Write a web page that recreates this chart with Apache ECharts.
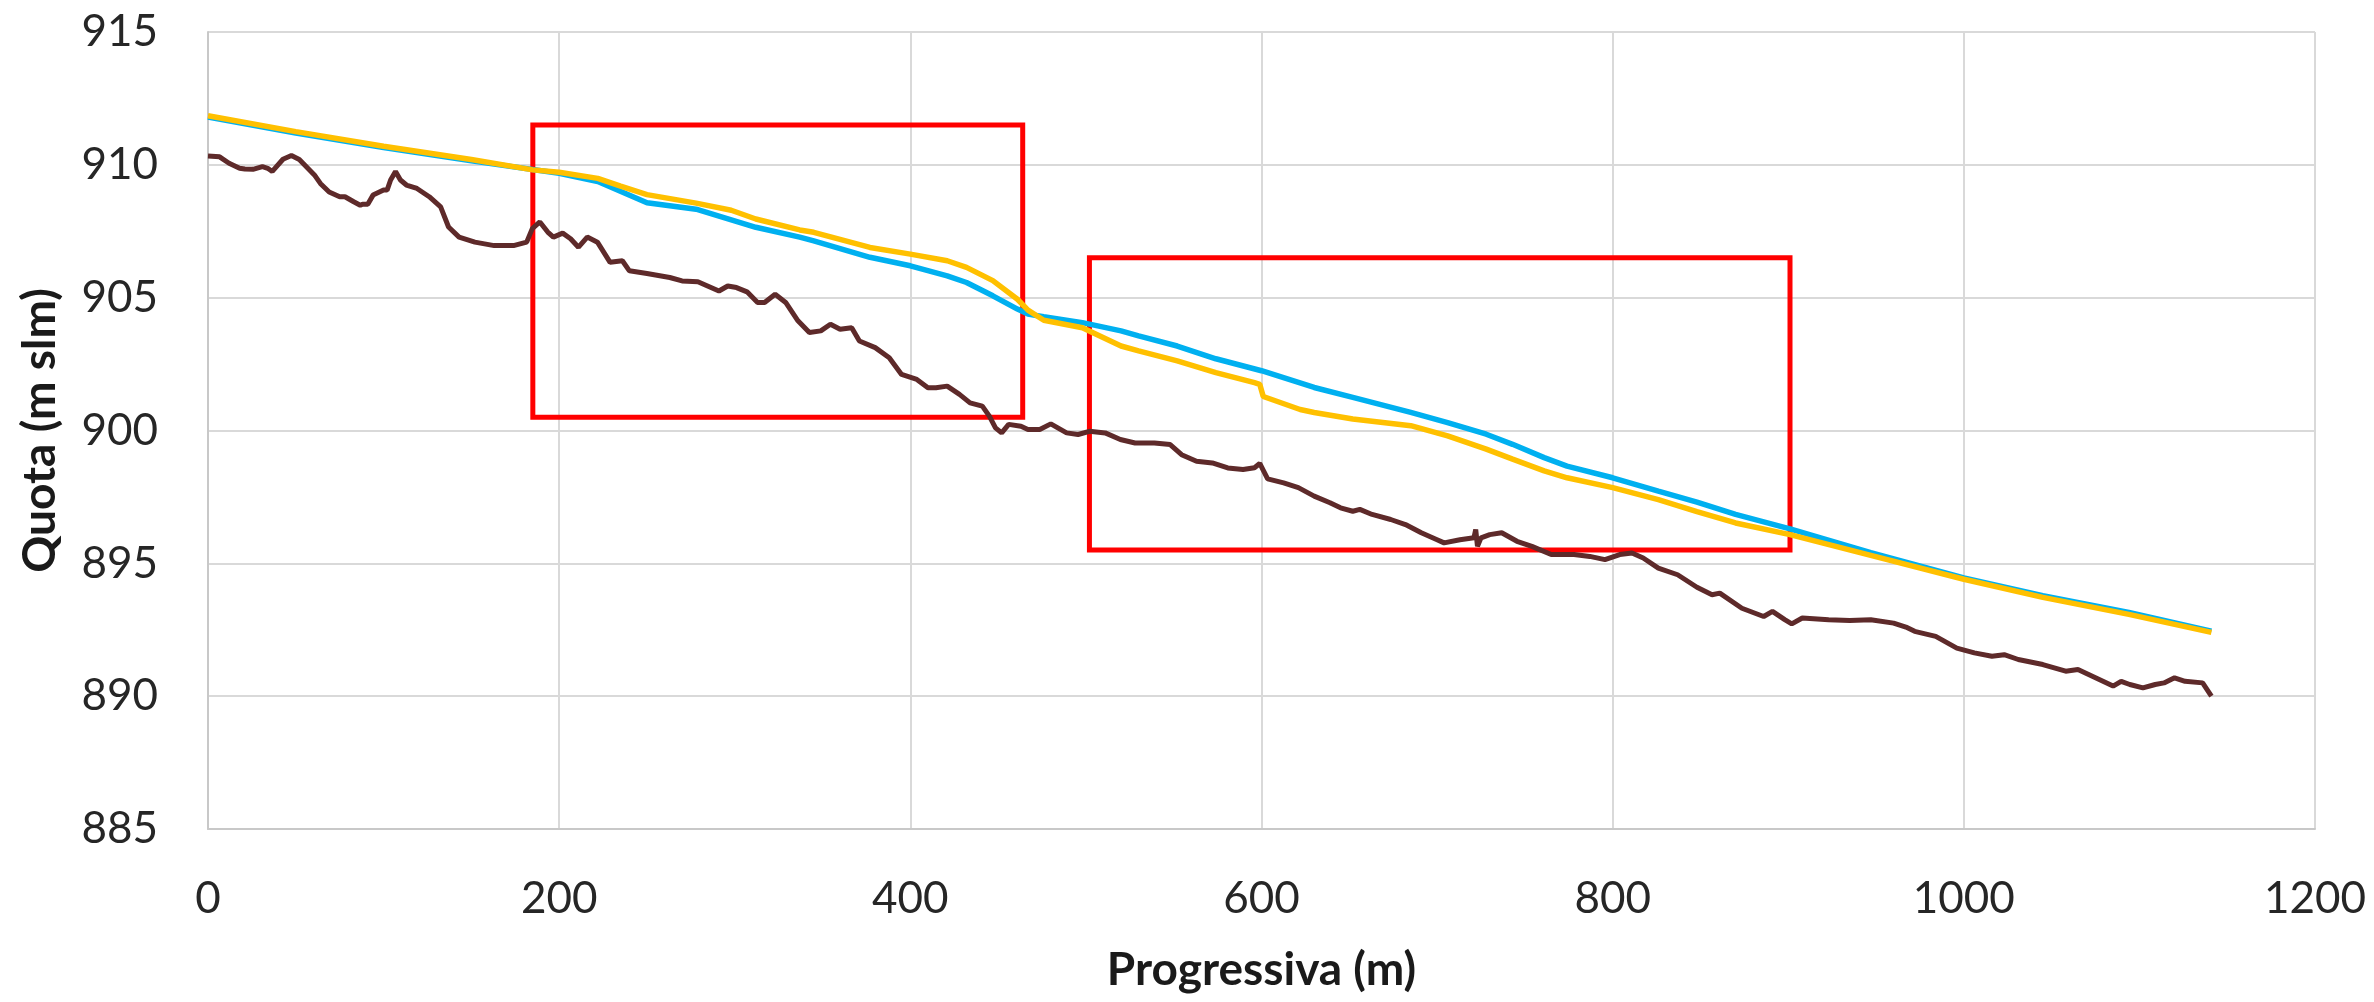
<!DOCTYPE html>
<html>
<head>
<meta charset="utf-8">
<title>Profilo</title>
<script src="https://cdn.jsdelivr.net/npm/echarts/dist/echarts.min.js"></script>
<style>
    html, body { margin: 0; padding: 0; background: #fff; }
    #main { width: 2374px; height: 1002px; }
</style>
</head>
<body>
<div id="main"></div>
<script>
// progressiva (m), quota (m slm) - fondo alveo
var fondo = [
    [0, 910.33], [6.6, 910.3], [12, 910.06], [18, 909.87], [21, 909.84], [25.6, 909.83], [31, 909.93],
    [34, 909.87], [36.6, 909.75], [42.7, 910.21], [47.5, 910.35], [52, 910.2], [60.6, 909.62],
    [64, 909.3], [69, 908.98], [75, 908.8], [78, 908.8], [83, 908.61], [86.7, 908.48], [88, 908.52],
    [91, 908.52], [94, 908.86], [100, 909.05], [102, 909.05], [104, 909.43], [106.8, 909.75],
    [109.6, 909.43], [113, 909.24], [119, 909.11], [126, 908.8], [132.5, 908.42], [137, 907.66],
    [143, 907.28], [152, 907.09], [163, 906.96], [174, 906.96], [181.5, 907.09], [184.7, 907.6],
    [189, 907.85], [193.5, 907.47], [196.7, 907.28], [202, 907.43], [206.5, 907.22], [211, 906.9],
    [216, 907.28], [221.8, 907.09], [229, 906.33], [236, 906.39], [240, 906.01], [250, 905.91],
    [263, 905.76], [270, 905.63], [279, 905.6], [291, 905.25], [296, 905.44], [301, 905.38],
    [307, 905.22], [313, 904.82], [317, 904.82], [323, 905.13], [329, 904.82], [336, 904.13],
    [342.5, 903.69], [349, 903.75], [354.5, 904.0], [360, 903.81], [366.6, 903.87], [371, 903.37],
    [380, 903.12], [388, 902.74], [395, 902.11], [403.7, 901.92], [410, 901.61], [414.6, 901.61],
    [421, 901.67], [428, 901.36], [434, 901.04], [441, 900.92], [445, 900.54], [448.5, 900.1],
    [452, 899.91], [456, 900.23], [463, 900.16], [467, 900.04], [473.7, 900.04], [480, 900.25],
    [489, 899.91], [495.5, 899.85], [502, 899.97], [511, 899.91], [519.6, 899.66], [528, 899.53],
    [539, 899.53], [548, 899.47], [554.5, 899.09], [563, 898.84], [572, 898.78], [580.8, 898.59],
    [589.5, 898.53], [596, 898.6], [599, 898.76], [603.5, 898.18], [612.6, 898.03], [621, 897.85],
    [630, 897.53], [639, 897.28], [645, 897.09], [652, 896.96], [656, 897.03], [663, 896.84],
    [673.6, 896.65], [682, 896.46], [691, 896.15], [700, 895.89], [704, 895.77], [713, 895.89],
    [721, 895.96], [722, 896.27], [723, 895.64], [725, 895.96], [730, 896.08], [736.8, 896.15],
    [745.5, 895.83], [754, 895.64], [765, 895.33], [778, 895.33], [787, 895.26], [795.6, 895.14],
    [804, 895.33], [811, 895.39], [817.4, 895.2], [826, 894.82], [837, 894.57], [848, 894.1],
    [856.6, 893.82], [861, 893.88], [873.6, 893.31], [886, 893.0], [891, 893.19], [898, 892.88],
    [902, 892.72], [908, 892.94], [923, 892.88], [935, 892.85], [947, 892.88], [960, 892.75],
    [967, 892.6], [972, 892.44], [984, 892.25], [996, 891.81], [1006, 891.63], [1016, 891.5],
    [1023, 891.56], [1031, 891.38], [1045, 891.19], [1058, 890.94], [1065, 891.0], [1075, 890.69],
    [1085, 890.38], [1089.6, 890.56], [1094.5, 890.44], [1102, 890.31], [1109, 890.44],
    [1114, 890.5], [1120, 890.69], [1126, 890.56], [1136, 890.5], [1141, 890.0]
];

// pelo libero - linea azzurra
var peloAzzurro = [
    [0, 911.8], [50, 911.2], [100, 910.65], [150, 910.15], [200, 909.68], [222, 909.37],
    [250, 908.57], [278, 908.33], [312, 907.65], [337, 907.28], [345, 907.14], [377, 906.52],
    [400, 906.2], [421, 905.82], [432, 905.57], [447, 905.07], [461, 904.57], [467, 904.38],
    [476, 904.28], [498, 904.06], [520, 903.75], [530, 903.56], [552, 903.18], [574, 902.7],
    [600, 902.25], [630, 901.62], [652, 901.25], [685, 900.68], [706, 900.3], [728, 899.86],
    [743, 899.48], [761, 898.98], [774, 898.66], [800, 898.22], [826, 897.72], [848, 897.3],
    [870, 896.84], [901, 896.3], [947, 895.4], [1000, 894.45], [1045, 893.78], [1094, 893.15],
    [1141, 892.45]
];

// pelo libero - linea gialla
var peloGiallo = [
    [0, 911.85], [50, 911.25], [100, 910.7], [150, 910.2], [185, 909.81], [200, 909.72],
    [222, 909.49], [235, 909.2], [250, 908.88], [278, 908.56], [298, 908.29], [312, 907.96],
    [337, 907.55], [345, 907.46], [377, 906.89], [400, 906.64], [421, 906.39], [432, 906.14],
    [447, 905.64], [461, 904.94], [467, 904.53], [476, 904.15], [498, 903.87], [520, 903.18],
    [530, 903.0], [552, 902.62], [574, 902.18], [596, 901.8], [599, 901.74], [601, 901.28],
    [622, 900.79], [630, 900.68], [652, 900.43], [685, 900.18], [706, 899.8], [728, 899.3],
    [743, 898.92], [761, 898.48], [774, 898.22], [800, 897.85], [826, 897.4], [848, 896.95],
    [870, 896.52], [901, 896.08], [947, 895.3], [1000, 894.4], [1045, 893.72], [1094, 893.08],
    [1141, 892.4]
];

// riquadri rossi evidenziati: [x1, y1], [x2, y2]
var riquadri = [
    [[185, 911.5], [464, 900.5]],
    [[502, 906.5], [901, 895.5]]
];

var myChart = echarts.init(document.getElementById('main'));

var fontTick = 'Lato, "Open Sans", sans-serif';

var option = {
    animation: false,
    backgroundColor: '#ffffff',
    grid: {
        left: 208,
        right: 59,
        top: 32,
        bottom: 173
    },
    xAxis: {
        type: 'value',
        min: 0,
        max: 1200,
        interval: 200,
        name: 'Progressiva (m)',
        nameLocation: 'middle',
        nameGap: 118,
        nameTextStyle: {
            fontFamily: fontTick,
            fontWeight: 'bold',
            fontSize: 46,
            color: '#1a1a1a'
        },
        axisLine: { show: true, lineStyle: { color: '#c8c8c8', width: 2 } },
        axisTick: { show: false },
        axisLabel: {
            margin: 48,
            fontFamily: fontTick,
            fontSize: 44,
            color: '#262626',
            // niente separatore delle migliaia
            formatter: function (v) { return String(v); }
        },
        splitLine: { show: true, lineStyle: { color: '#d9d9d9', width: 2 } }
    },
    yAxis: {
        type: 'value',
        min: 885,
        max: 915,
        interval: 5,
        name: 'Quota (m slm)',
        nameLocation: 'middle',
        nameGap: 145,
        nameTextStyle: {
            fontFamily: fontTick,
            fontWeight: 'bold',
            fontSize: 46,
            color: '#1a1a1a'
        },
        axisLine: { show: true, lineStyle: { color: '#c8c8c8', width: 2 } },
        axisTick: { show: false },
        axisLabel: {
            margin: 50,
            fontFamily: fontTick,
            fontSize: 44,
            color: '#262626'
        },
        splitLine: { show: true, lineStyle: { color: '#d9d9d9', width: 2 } }
    },
    series: [
        {
            name: 'Fondo',
            type: 'line',
            data: fondo,
            showSymbol: false,
            lineStyle: { color: '#5e2a2a', width: 5 },
            z: 2
        },
        {
            name: 'Pelo libero 1',
            type: 'line',
            data: peloAzzurro,
            showSymbol: false,
            lineStyle: { color: '#00b0f0', width: 5.5 },
            z: 3
        },
        {
            name: 'Pelo libero 2',
            type: 'line',
            data: peloGiallo,
            showSymbol: false,
            lineStyle: { color: '#ffc000', width: 5.5 },
            z: 4
        },
        {
            // solo per i riquadri rossi sopra le linee
            name: 'Riquadri',
            type: 'line',
            data: [],
            z: 10,
            markArea: {
                silent: true,
                itemStyle: {
                    color: 'rgba(0,0,0,0)',
                    borderColor: '#ff0000',
                    borderWidth: 5
                },
                data: riquadri.map(function (r) {
                    return [{ coord: r[0] }, { coord: r[1] }];
                })
            }
        }
    ]
};

myChart.setOption(option);
</script>
</body>
</html>
